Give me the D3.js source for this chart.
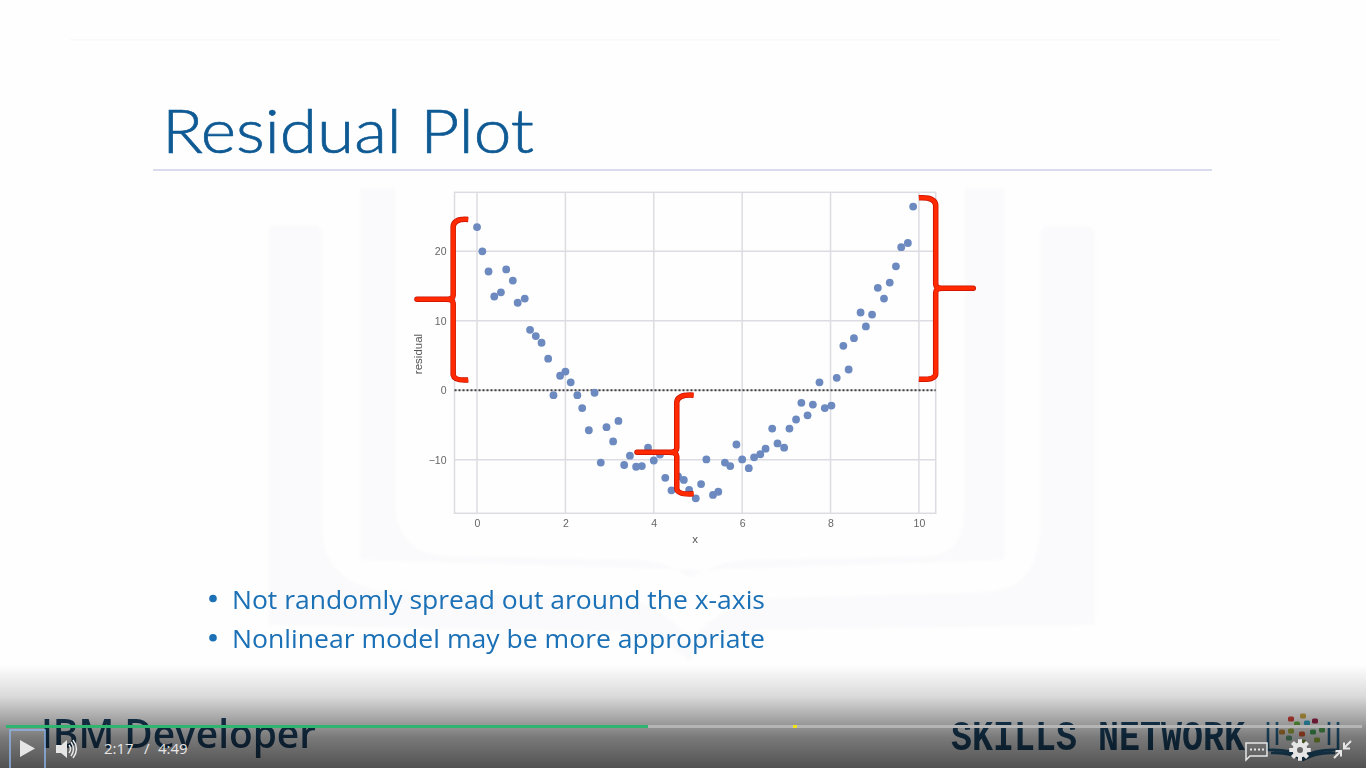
<!DOCTYPE html>
<html>
<head>
<meta charset="utf-8">
<title>Residual Plot</title>
<script src="https://cdn.jsdelivr.net/npm/d3@7"></script>
<style>
html, body { margin: 0; padding: 0; background: #fff; overflow: hidden; }
svg { display: block; }
</style>
</head>
<body>
<script>
// values
var xValues = [0, 0.12, 0.26, 0.39, 0.54, 0.66, 0.81, 0.92, 1.08, 1.2, 1.33, 1.46, 1.61, 1.73, 1.88, 2.0, 2.12,
    2.27, 2.38, 2.53, 2.66, 2.8, 2.93, 3.08, 3.2, 3.33, 3.46, 3.6, 3.73, 3.87, 4.0, 4.14, 4.26, 4.4, 4.55, 4.68,
    4.8, 4.95, 5.07, 5.19, 5.34, 5.46, 5.61, 5.73, 5.87, 6.0, 6.15, 6.27, 6.41, 6.53, 6.68, 6.8, 6.95, 7.07, 7.22,
    7.34, 7.48, 7.6, 7.75, 7.87, 8.02, 8.14, 8.29, 8.41, 8.53, 8.68, 8.8, 8.94, 9.07, 9.21, 9.34, 9.48, 9.6, 9.75, 9.87];
var residuals = [23.5, 20.0, 17.1, 13.5, 14.1, 17.4, 15.8, 12.6, 13.2, 8.7, 7.8, 6.85, 4.55, -0.7, 2.1, 2.7, 1.15,
    -0.7, -2.55, -5.75, -0.35, -10.4, -5.3, -7.35, -4.4, -10.75, -9.4, -11.0, -10.9, -8.25, -10.1, -9.25, -12.6, -14.4, -12.4, -12.9,
    -14.35, -15.55, -13.5, -9.95, -15.05, -14.6, -10.4, -10.9, -7.8, -9.95, -11.2, -9.65, -9.2, -8.4, -5.5, -7.65, -8.25, -5.5, -4.2,
    -1.8, -3.6, -2.05, 1.15, -2.55, -2.2, 1.8, 6.4, 3.0, 7.5, 11.2, 9.2, 10.9, 14.75, 13.2, 15.5, 17.85, 20.6, 21.2, 26.45];
var xTicks = [0, 2, 4, 6, 8, 10];
var yTicks = [-10, 0, 10, 20];
var bullets = ["Not randomly spread out around the x-axis", "Nonlinear model may be more appropriate"];

var width = 1366, height = 768;

var svg = d3.select("body").append("svg")
    .attr("width", width)
    .attr("height", height)
    .style("font-family", "Lato, sans-serif");

var defs = svg.append("defs");
defs.append("filter").attr("id", "soft").append("feGaussianBlur").attr("stdDeviation", 0.5);
defs.append("filter").attr("id", "softer").append("feGaussianBlur").attr("stdDeviation", 1.5);
var grad = defs.append("linearGradient").attr("id", "shade")
    .attr("x1", 0).attr("y1", 0).attr("x2", 0).attr("y2", 1);
grad.append("stop").attr("offset", "0%").attr("stop-color", "#000").attr("stop-opacity", 0);
grad.append("stop").attr("offset", "30%").attr("stop-color", "#000").attr("stop-opacity", 0.14);
grad.append("stop").attr("offset", "70%").attr("stop-color", "#000").attr("stop-opacity", 0.52);
grad.append("stop").attr("offset", "100%").attr("stop-color", "#000").attr("stop-opacity", 0.68);

svg.append("rect").attr("width", width).attr("height", height).attr("fill", "#fefefe");

// faint book watermark behind the slide
var mark = svg.append("g").attr("fill", "#fafafc").attr("filter", "url(#softer)");
mark.append("path").attr("d", "M268 232 Q268 225 278 225 L312 225 Q322 225 322 235 L322 525 Q322 590 400 592 L610 598 Q660 600 690 640 Q725 600 780 598 L985 592 Q1040 590 1040 525 L1040 235 Q1040 226 1050 226 L1085 226 Q1095 226 1095 235 L1095 625 L760 630 Q700 640 690 662 Q670 640 620 632 L268 625 Z");
mark.append("path").attr("d", "M360 188 L395 188 L395 500 Q395 555 450 556 L640 560 Q670 562 690 578 Q715 562 745 560 L930 556 Q965 555 965 500 L965 188 L1005 188 L1005 560 L700 570 L360 560 Z");

// slide furniture
svg.append("line").attr("x1", 70).attr("x2", 1280).attr("y1", 40).attr("y2", 40)
    .attr("stroke", "#f5f5f5").attr("stroke-width", 1);
svg.append("text").attr("x", 162).attr("y", 152.5)
    .attr("font-size", 62).attr("font-weight", 300).attr("fill", "#115a94")
    .attr("stroke", "#115a94").attr("stroke-width", 0.7)
    .attr("textLength", 372).attr("lengthAdjust", "spacingAndGlyphs")
    .attr("filter", "url(#soft)")
    .text("Residual Plot");
svg.append("line").attr("x1", 153).attr("x2", 1212).attr("y1", 170).attr("y2", 170)
    .attr("stroke", "#d9dcec").attr("stroke-width", 2);

var bulletRows = svg.append("g").attr("filter", "url(#soft)").selectAll("g")
    .data(bullets)
    .enter().append("g")
    .attr("transform", function(d, i) { return "translate(0," + (608.5 + i * 39.2) + ")"; });
bulletRows.append("circle").attr("cx", 213).attr("cy", -10).attr("r", 3.8).attr("fill", "#1a70b6");
bulletRows.append("text").attr("x", 232)
    .attr("font-size", 25.5).attr("fill", "#1a70b6")
    .style("font-family", "'Open Sans', sans-serif")
    .attr("textLength", 533).attr("lengthAdjust", "spacingAndGlyphs")
    .text(function(d) { return d; });

// the scatter
var margin = { left: 454.5, right: 935.7, top: 192.3, bottom: 513.3 };
var x = d3.scaleLinear().domain([-0.51, 10.38]).range([margin.left, margin.right]);
var y = d3.scaleLinear().domain([-17.7, 28.5]).range([margin.bottom, margin.top]);

var chart = svg.append("g").attr("filter", "url(#soft)");

chart.append("g").selectAll("line").data(xTicks).enter().append("line")
    .attr("x1", x).attr("x2", x).attr("y1", margin.top).attr("y2", margin.bottom)
    .attr("stroke", "#dcdce2").attr("stroke-width", 1.5);
chart.append("g").selectAll("line").data(yTicks).enter().append("line")
    .attr("x1", margin.left).attr("x2", margin.right).attr("y1", y).attr("y2", y)
    .attr("stroke", "#dcdce2").attr("stroke-width", 1.5);
chart.append("rect")
    .attr("x", margin.left).attr("y", margin.top)
    .attr("width", margin.right - margin.left).attr("height", margin.bottom - margin.top)
    .attr("fill", "none").attr("stroke", "#dcdce2").attr("stroke-width", 1.5);

var xAxis = chart.append("g")
    .attr("transform", "translate(0," + margin.bottom + ")")
    .call(d3.axisBottom(x).tickValues(xTicks).tickSize(0).tickPadding(6).tickFormat(d3.format("d")));
var yAxis = chart.append("g")
    .attr("transform", "translate(" + margin.left + ",0)")
    .call(d3.axisLeft(y).tickValues(yTicks).tickSize(0).tickPadding(8).tickFormat(d3.format("d")));
[xAxis, yAxis].forEach(function(axis) {
    axis.select(".domain").remove();
    axis.selectAll("text")
        .attr("fill", "#666")
        .style("font-family", "'Liberation Sans', sans-serif")
        .style("font-size", "10.5px");
});

chart.append("text").attr("x", 695).attr("y", 543).attr("text-anchor", "middle")
    .attr("fill", "#555").style("font-family", "'Liberation Sans', sans-serif").style("font-size", "11.5px").text("x");
chart.append("text").attr("transform", "translate(421.5,354) rotate(-90)").attr("text-anchor", "middle")
    .attr("fill", "#555").style("font-family", "'Liberation Sans', sans-serif").style("font-size", "11.5px").text("residual");

chart.append("line")
    .attr("x1", margin.left).attr("x2", margin.right).attr("y1", y(0)).attr("y2", y(0))
    .attr("stroke", "#444").attr("stroke-width", 2).attr("stroke-dasharray", "2 2");

chart.append("g").selectAll("circle")
    .data(xValues)
    .enter().append("circle")
    .attr("cx", function(d) { return x(d); })
    .attr("cy", function(d, i) { return y(residuals[i]); })
    .attr("r", 3.9)
    .attr("fill", "#6c8ac0");

// red braces, drawn in chart units
function brace(xBar, xTip, xSpike, yTop, yMid, yBottom) {
    var b = x(xBar), t = x(xTip), s = x(xSpike);
    var top = y(yTop), mid = y(yMid), bot = y(yBottom);
    var dir = t > b ? 1 : -1;
    return "M" + t + " " + top +
        " Q" + (b + dir * 1) + " " + (top - 1) + " " + b + " " + (top + 7) +
        " L" + b + " " + (mid - 4) +
        " Q" + b + " " + mid + " " + (b + (s - b) * 0.2) + " " + mid +
        " L" + s + " " + mid +
        " L" + (b + (s - b) * 0.2) + " " + mid +
        " Q" + b + " " + mid + " " + b + " " + (mid + 4) +
        " L" + b + " " + (bot - 5) +
        " Q" + (b + dir * 1) + " " + (bot + 1) + " " + t + " " + bot;
}
var braces = svg.append("g").attr("filter", "url(#soft)");
[[-0.54, -0.2, -1.36, 24.6, 13.1, 1.5],
 [10.38, 10.0, 11.23, 27.7, 14.7, 1.6],
 [4.52, 4.9, 3.62, -0.7, -8.9, -14.9]].forEach(function(b) {
    var d = brace(b[0], b[1], b[2], b[3], b[4], b[5]);
    braces.append("path").attr("d", d).attr("fill", "none").attr("stroke", "#c81200")
        .attr("stroke-width", 5.5).attr("stroke-linejoin", "round");
    braces.append("path").attr("d", d).attr("fill", "none").attr("stroke", "#ff2a00")
        .attr("stroke-width", 4).attr("stroke-linejoin", "round");
});

// video player overlay
var logos = svg.append("g").attr("filter", "url(#soft)");
logos.append("text").attr("x", 41).attr("y", 748)
    .attr("font-size", 40).attr("font-weight", 600).attr("fill", "#1d4568")
    .style("font-family", "'Open Sans', sans-serif")
    .attr("textLength", 275).attr("lengthAdjust", "spacingAndGlyphs")
    .text("IBM Developer");
logos.append("text").attr("x", 951).attr("y", 750)
    .attr("font-size", 42).attr("font-weight", 700).attr("fill", "#1d4a6c")
    .style("font-family", "'Liberation Mono', monospace")
    .attr("textLength", 294).attr("lengthAdjust", "spacingAndGlyphs")
    .text("SKILLS NETWORK");
// book logo of the network
logos.append("path")
    .attr("d", "M1268 722 L1268 750 Q1290 749 1303 757 Q1316 749 1338 750 L1338 722 M1277 722 L1277 745 M1329 722 L1329 745 M1271 753 Q1290 752 1303 760 Q1316 752 1335 753")
    .attr("fill", "none").attr("stroke", "#2a6f9c").attr("stroke-width", 2.6);
var nodes = [[1291, 719, "#e0483c"], [1303, 716, "#d4b048"], [1315, 721, "#a82552"], [1307, 723, "#38b5d8"],
    [1297, 724, "#72c24a"], [1282, 732, "#d2953f"], [1302, 734, "#ee6233"], [1313, 732, "#4cb065"], [1322, 730, "#5bb35c"],
    [1291, 731, "#b0c244"], [1317, 740, "#a3c644"], [1303, 742, "#93b64c"], [1289, 738, "#6ab088"]];
logos.selectAll("rect.node").data(nodes).enter().append("rect")
    .attr("class", "node")
    .attr("x", function(d) { return d[0] - 3; }).attr("y", function(d) { return d[1] - 2.5; })
    .attr("width", 6).attr("height", 5).attr("rx", 1.5)
    .attr("fill", function(d) { return d[2]; });

svg.append("rect").attr("x", 0).attr("y", 665).attr("width", width).attr("height", 103)
    .attr("fill", "url(#shade)");

svg.append("rect").attr("x", 6).attr("y", 725).attr("width", 1356).attr("height", 3).attr("fill", "#b5b5b5");
svg.append("rect").attr("x", 6).attr("y", 725).attr("width", 642).attr("height", 3).attr("fill", "#2fb56f");
svg.append("rect").attr("x", 793).attr("y", 725).attr("width", 4).attr("height", 3).attr("fill", "#f2e21c");

svg.append("path").attr("d", "M10 768 L10 730 L45 730 L45 768")
    .attr("fill", "none").attr("stroke", "#8fb4ea").attr("stroke-width", 1.5);
svg.append("path").attr("d", "M20 740 L35 748.5 L20 757 Z").attr("fill", "#e6e6e6");

var ctl = svg.append("g").attr("fill", "#e6e6e6");
ctl.append("path").attr("d", "M56 745 L61 745 L67 740 L67 758 L61 753 L56 753 Z");
ctl.append("path").attr("d", "M69 745 Q72 749 69 753 M71 742 Q76 749 71 756 M73 740 Q80 749 73 758")
    .attr("fill", "none").attr("stroke", "#e6e6e6").attr("stroke-width", 1.5);
ctl.append("text").attr("x", 104).attr("y", 754).attr("font-size", 15)
    .style("font-family", "'Open Sans', sans-serif").attr("fill", "#e6e6e6").text("2:17");
ctl.append("text").attr("x", 144).attr("y", 754).attr("font-size", 15)
    .style("font-family", "'Open Sans', sans-serif").attr("fill", "#e6e6e6").text("/");
ctl.append("text").attr("x", 158).attr("y", 754).attr("font-size", 15)
    .style("font-family", "'Open Sans', sans-serif").attr("fill", "#e6e6e6").text("4:49");

// captions button
ctl.append("path").attr("d", "M1246 743 L1267 743 L1267 756 L1250 756 L1246 760 Z")
    .attr("fill", "none").attr("stroke", "#e6e6e6").attr("stroke-width", 1.5);
[1250, 1254, 1258, 1262].forEach(function(px) {
    ctl.append("rect").attr("x", px).attr("y", 748.5).attr("width", 2).attr("height", 2);
});
// gear
var gear = ctl.append("g").attr("transform", "translate(1300,750)");
d3.range(8).forEach(function(i) {
    gear.append("rect").attr("x", -2).attr("y", -10.5).attr("width", 4).attr("height", 21)
        .attr("transform", "rotate(" + (i * 45) + ")");
});
gear.append("circle").attr("r", 7.5);
gear.append("circle").attr("r", 3).attr("fill", "#666");
// exit full screen arrows
ctl.append("path").attr("d", "M1351 741 L1344 748 M1344 742.5 L1344 748.5 L1350 748.5 M1334 758 L1341 751 M1335.5 751 L1341 751 L1341 756.5")
    .attr("fill", "none").attr("stroke", "#e6e6e6").attr("stroke-width", 2);
</script>
</body>
</html>
